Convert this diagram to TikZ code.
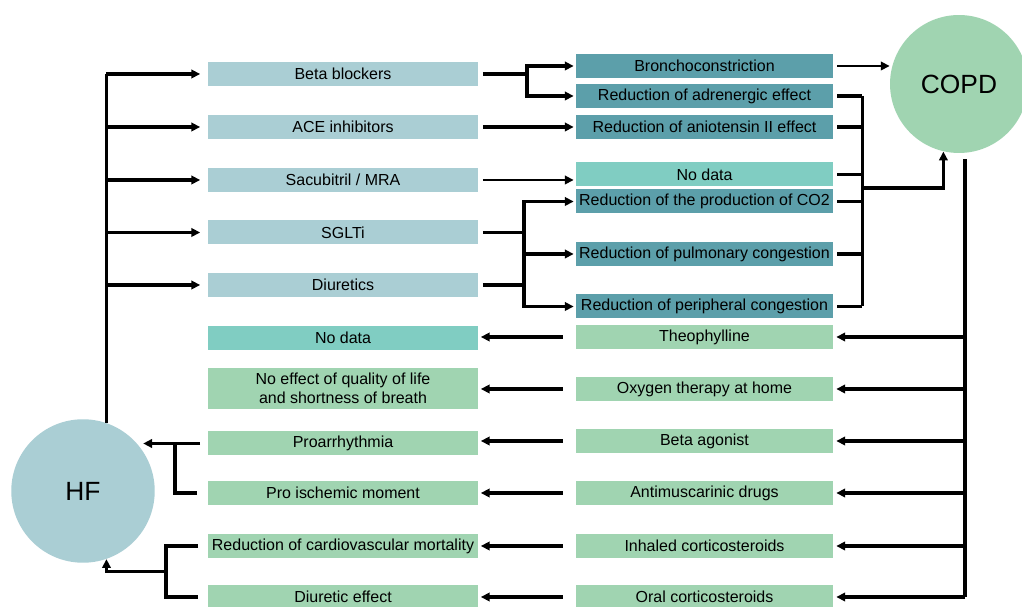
\documentclass[tikz,border=0pt]{standalone}
\usepackage{fontspec}
\setmainfont{Liberation Sans}
\usetikzlibrary{arrows.meta,calc}

\definecolor{hfblue}{RGB}{170,206,212}
\definecolor{tealbox}{RGB}{92,159,170}
\definecolor{nodatabox}{RGB}{128,205,194}
\definecolor{greenbox}{RGB}{160,212,177}

\begin{document}
\begin{tikzpicture}[x=0.02cm,y=-0.02cm,
    font=\fontsize{9.1}{10.5}\selectfont,
    box/.style={rectangle,inner sep=0pt,minimum height=0.48cm,align=center},
    lbox/.style={box,fill=hfblue,minimum width=5.42cm},
    rbox/.style={box,fill=greenbox,minimum width=5.42cm},
    mbox/.style={box,fill=tealbox,minimum width=5.14cm},
    gbox/.style={box,fill=greenbox,minimum width=5.14cm},
    blob/.style={circle,inner sep=0pt,font=\fontsize{15}{18}\selectfont},
    link/.style={line width=2pt},
    arr/.style={link,-{Triangle[length=5pt,width=4.8pt]}},
    thinarr/.style={arr,line width=1.3pt}]
        \useasboundingbox[fill=white] (0,0) rectangle (1022,607);

        % disease circles
        \node[blob,fill=hfblue,minimum size=2.87cm] (hf) at (83,491) {HF};
        \node[blob,fill=greenbox,minimum size=2.76cm] (copd) at (959,84) {COPD};

        % HF drugs and their effects
        \foreach \n/\y/\t in {bb/74/Beta blockers,ace/127/ACE inhibitors,sac/180/{Sacubitril / MRA},sglt/232.5/SGLTi,diu/285/Diuretics} {
            \node[lbox] (\n) at (343,\y) {\t};
          }
        \foreach \n/\y/\t in {bronch/66/Bronchoconstriction,adren/96/Reduction of adrenergic effect,angio/127/Reduction of aniotensin II effect,cotwo/201.5/Reduction of the production of CO2,pulm/254/Reduction of pulmonary congestion,peri/306.5/Reduction of peripheral congestion} {
            \node[mbox] (\n) at (704.5,\y) {\t};
          }
        \node[mbox,fill=nodatabox] (nodata) at (704.5,174.5) {No data};

        % COPD drugs and their effects
        \foreach \n/\y/\t in {theo/337/Theophylline,oxy/389/Oxygen therapy at home,bago/441/Beta agonist,antim/493/Antimuscarinic drugs,inh/546/Inhaled corticosteroids,oral/597/Oral corticosteroids} {
            \node[gbox] (\n) at (704.5,\y) {\t};
          }
        \node[rbox,fill=nodatabox] (nodatab) at (343,338) {No data};
        \node[rbox,minimum height=0.82cm] (qol) at (343,388.5) {No effect of quality of life\\and shortness of breath};
        \foreach \n/\y/\t in {proarr/443.5/Proarrhythmia,proisch/493/Pro ischemic moment,cvmort/546/Reduction of cardiovascular mortality,diureff/597/Diuretic effect} {
            \node[rbox] (\n) at (343,\y) {\t};
          }

        % HF -> drugs
        \draw[link] (hf.71) -- (hf.71 |- bb.west);
        \foreach \n in {bb,ace,sac,sglt,diu} {
            \draw[arr,shorten >=0.14cm] (hf.71 |- \n.west) -- (\n.west);
          }

        % drugs -> effects
        \draw[link,shorten <=0.08cm] (bb.east) -- ++(48,0) coordinate (bj);
        \draw[arr,shorten >=0.04cm] (bj) |- (bronch.west);
        \draw[arr,shorten >=0.04cm] (bj) |- (adren.west);
        \draw[arr,shorten <=0.08cm,shorten >=0.04cm] (ace.east) -- (ace.east -| angio.west);
        \draw[thinarr,shorten <=0.08cm,shorten >=0.04cm] (sac.east) -- (sac.east -| nodata.west);
        \draw[link,shorten <=0.08cm] (sglt.east) -- ++(45,0) coordinate (sj);
        \draw[link,shorten <=0.08cm] (diu.east) -- (diu.east -| sj);
        \foreach \n in {cotwo,pulm,peri} {
            \draw[arr,shorten >=0.04cm] (sj) |- (\n.west);
          }

        % effects -> COPD
        \draw[thinarr,shorten <=0.08cm] (bronch.east) -- (bronch.east -| copd.west);
        \foreach \n in {adren,angio,nodata,cotwo,pulm,peri} {
            \draw[link,shorten <=0.08cm] (\n.east) -- ++(29,0);
          }
        \draw[link] ($(adren.east)+(29,0)$) -- ($(peri.east)+(29,0)$);
        \draw[arr] ($(nodata.east)!0.5!(cotwo.east)+(29,0)$) -| (copd.-103);

        % COPD -> drugs
        \draw[link,shorten <=0.12cm] (copd.-85) -- (copd.-85 |- oral.east);
        \foreach \n in {theo,oxy,bago,antim,inh,oral} {
            \draw[arr,shorten >=0.06cm] (copd.-85 |- \n.east) -- (\n.east);
          }

        % drugs -> effects on HF
        \foreach \m/\l in {theo/nodatab,oxy/qol,bago/proarr,antim/proisch,inh/cvmort,oral/diureff} {
            \draw[arr,shorten <=0.26cm,shorten >=0.04cm] (\m.west) -- (\m.west -| \l.east);
          }

        % effects -> HF
        \draw[arr,shorten <=0.14cm,shorten >=0.1cm] (proarr.west) -- (proarr.west -| hf.40);
        \draw[link,shorten <=0.2cm] (proisch.west) -| ($(proarr.west)+(-32,0)$);
        \draw[link] ($(cvmort.west)+(-9,0)$) -| ($(diureff.west)+(-41,0)$) -- ($(diureff.west)+(-9,0)$);
        \draw[arr] ($(cvmort.west)!0.5!(diureff.west)+(-41,0)$) -| (hf.-71);
      \end{tikzpicture}
\end{document}
